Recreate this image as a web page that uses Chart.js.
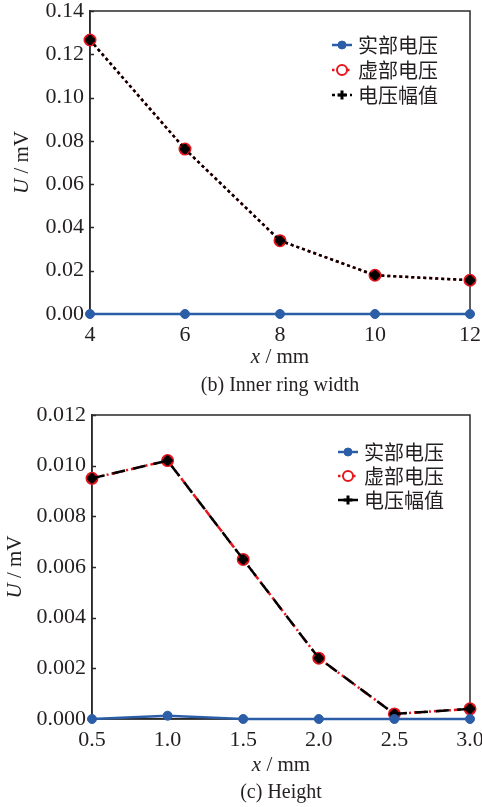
<!DOCTYPE html>
<html lang="zh">
<head>
<meta charset="UTF-8">
<title>U / mV</title>
<script src="https://cdn.jsdelivr.net/npm/chart.js"></script>
<style>
  body { margin: 0; background: #fff; width: 482px; height: 807px; overflow: hidden; }
  canvas { display: block; }
</style>
</head>
<body>
<canvas id="ringChart" width="482" height="400"></canvas>
<canvas id="heightChart" width="482" height="407"></canvas>
<script>
const seriesNames = ['实部电压', '虚部电压', '电压幅值'];

// (b) inner ring width
const ringX = [4, 6, 8, 10, 12];
const ringReal = [0, 0, 0, 0, 0];
const ringImag = [0.1266, 0.0762, 0.0339, 0.0179, 0.0156];
const ringAmp = [0.1266, 0.0762, 0.0339, 0.0179, 0.0156];
const ringXTicks = [4, 6, 8, 10, 12];
const ringYTicks = [0, 0.02, 0.04, 0.06, 0.08, 0.10, 0.12, 0.14];

// (c) height
const heightX = [0.5, 1.0, 1.5, 2.0, 2.5, 3.0];
const heightReal = [0, 0.00013, 0, 0, 0, 0];
const heightImag = [0.0095, 0.0102, 0.0063, 0.0024, 0.0002, 0.0004];
const heightAmp = [0.0095, 0.0102, 0.0063, 0.0024, 0.0002, 0.0004];
const heightXTicks = [0.5, 1.0, 1.5, 2.0, 2.5, 3.0];
const heightYTicks = [0, 0.002, 0.004, 0.006, 0.008, 0.010, 0.012];

const INK = '#231f20';
const AXIS = '#2a2a2a';
const BLUE = '#2c5ea8';
const RED = '#e5161d';
const SERIF = '"Liberation Serif", "Times New Roman", serif';
const CJK = '"Noto Sans CJK SC", sans-serif';

function toPoints(xs, ys) {
  return xs.map((x, i) => ({ x: x, y: ys[i] }));
}

// draws text made of plain / italic pieces, centred on x
function drawMixed(ctx, parts, x, y, size) {
  let total = 0;
  parts.forEach(p => {
    ctx.font = (p.italic ? 'italic ' : '') + size + 'px ' + SERIF;
    p.w = ctx.measureText(p.text).width;
    total += p.w;
  });
  let cx = x - total / 2;
  parts.forEach(p => {
    ctx.font = (p.italic ? 'italic ' : '') + size + 'px ' + SERIF;
    ctx.fillText(p.text, cx, y);
    cx += p.w;
  });
}

// box around the plot area plus short inward ticks on the y axis
const framePlugin = {
  id: 'frame',
  beforeDatasetsDraw(chart) {
    const { ctx, chartArea: a, scales } = chart;
    ctx.save();
    ctx.strokeStyle = AXIS;
    ctx.lineWidth = 1.5;
    ctx.strokeRect(a.left, a.top, a.right - a.left, a.bottom - a.top);
    ctx.beginPath();
    scales.y.ticks.forEach(t => {
      const y = Math.round(scales.y.getPixelForValue(t.value)) + 0.5;
      ctx.moveTo(a.left, y);
      ctx.lineTo(a.left + 4, y);
    });
    ctx.stroke();
    ctx.restore();
  }
};

const labelsPlugin = {
  id: 'labels',
  afterDraw(chart, args, o) {
    const { ctx, chartArea: a } = chart;
    const midX = (a.left + a.right) / 2;
    ctx.save();
    ctx.fillStyle = INK;
    ctx.textAlign = 'left';
    ctx.textBaseline = 'middle';

    // axis titles
    drawMixed(ctx, [{ text: 'x', italic: true }, { text: ' / mm' }], midX, o.xTitleY, 21);
    ctx.save();
    ctx.translate(o.yTitleX, (a.top + a.bottom) / 2);
    ctx.rotate(-Math.PI / 2);
    drawMixed(ctx, [{ text: 'U', italic: true }, { text: ' / mV' }], 0, 0, 21);
    ctx.restore();

    // caption under the chart
    drawMixed(ctx, [{ text: o.caption }], midX, o.captionY, 20);

    // legend inside plot area
    chart.data.datasets.forEach((ds, i) => {
      const y = o.legendY + i * o.legendGap;
      const x0 = o.legendX;
      ctx.save();
      ctx.strokeStyle = ds.borderColor;
      ctx.lineWidth = ds.borderWidth;
      ctx.setLineDash(ds.legendDash || ds.borderDash || []);
      ctx.beginPath();
      ctx.moveTo(x0, y);
      ctx.lineTo(x0 + 20, y);
      ctx.stroke();
      ctx.setLineDash([]);
      ctx.fillStyle = ds.legendFill || ds.pointBackgroundColor;
      ctx.strokeStyle = ds.pointBorderColor;
      ctx.lineWidth = ds.pointBorderWidth;
      Chart.helpers.drawPoint(ctx, {
        pointStyle: ds.pointStyle,
        radius: ds.pointRadius - 0.5,
        borderWidth: ds.pointBorderWidth,
        rotation: 0
      }, x0 + 10, y);
      ctx.restore();
      ctx.fillStyle = INK;
      ctx.font = '20px ' + CJK;
      ctx.fillText(ds.label, x0 + 26, y);
    });
    ctx.restore();
  }
};

function makeChart(id, cfg) {
  const tickFont = { family: SERIF, size: 22 };
  return new Chart(document.getElementById(id), {
    type: 'line',
    data: {
      datasets: [
        {
          label: seriesNames[0],
          data: toPoints(cfg.x, cfg.real),
          borderColor: BLUE,
          borderWidth: 2.5,
          pointStyle: 'circle',
          pointRadius: 4.5,
          pointBackgroundColor: BLUE,
          pointBorderColor: BLUE,
          pointBorderWidth: 1,
          order: 0
        },
        {
          label: seriesNames[1],
          data: toPoints(cfg.x, cfg.imag),
          borderColor: RED,
          borderWidth: 2.5,
          borderDash: cfg.imagDash,
          legendDash: [2.5, 2.5],
          pointStyle: 'circle',
          pointRadius: 5.5,
          pointBackgroundColor: '#1a0505',
          legendFill: '#fff',
          pointBorderColor: RED,
          pointBorderWidth: 2,
          order: 2
        },
        {
          label: seriesNames[2],
          data: toPoints(cfg.x, cfg.amp),
          borderColor: '#000',
          borderWidth: 2.5,
          borderDash: cfg.ampDash,
          legendDash: cfg.ampLegendDash,
          pointStyle: 'cross',
          pointRadius: 5,
          pointBackgroundColor: '#000',
          pointBorderColor: '#000',
          pointBorderWidth: 3,
          order: 1
        }
      ]
    },
    options: {
      responsive: false,
      animation: false,
      devicePixelRatio: 1,
      clip: false,
      layout: { padding: { top: cfg.top, right: 12, left: 0, bottom: 0 } },
      plugins: {
        legend: { display: false },
        tooltip: { enabled: false },
        labels: cfg.labels
      },
      scales: {
        x: {
          type: 'linear',
          min: cfg.xTicks[0],
          max: cfg.xTicks[cfg.xTicks.length - 1],
          afterBuildTicks: s => { s.ticks = cfg.xTicks.map(v => ({ value: v })); },
          afterFit: s => { s.height = cfg.xHeight; s.paddingLeft = 0; s.paddingRight = 0; },
          ticks: {
            font: tickFont, color: INK, padding: 8, maxRotation: 0,
            callback: v => v.toFixed(cfg.xDigits)
          },
          grid: { drawOnChartArea: false, drawTicks: false },
          border: { color: AXIS, width: 1.5 }
        },
        y: {
          min: cfg.yTicks[0],
          max: cfg.yTicks[cfg.yTicks.length - 1],
          afterBuildTicks: s => { s.ticks = cfg.yTicks.map(v => ({ value: v })); },
          afterFit: s => { s.width = cfg.yWidth; s.paddingTop = 0; s.paddingBottom = 0; },
          ticks: {
            font: tickFont, color: INK, padding: 6,
            callback: v => v.toFixed(cfg.yDigits)
          },
          grid: { drawOnChartArea: false, drawTicks: false },
          border: { color: AXIS, width: 1.5 }
        }
      }
    },
    plugins: [framePlugin, labelsPlugin]
  });
}

makeChart('ringChart', {
  x: ringX, real: ringReal, imag: ringImag, amp: ringAmp,
  xTicks: ringXTicks, yTicks: ringYTicks, xDigits: 0, yDigits: 2,
  top: 11, xHeight: 86, yWidth: 90,
  imagDash: [3, 3], ampDash: [3, 3], ampLegendDash: [3, 3],
  labels: { caption: '(b) Inner ring width', xTitleY: 357, captionY: 386, yTitleX: 22,
            legendX: 332, legendY: 45, legendGap: 25 }
});

makeChart('heightChart', {
  x: heightX, real: heightReal, imag: heightImag, amp: heightAmp,
  xTicks: heightXTicks, yTicks: heightYTicks, xDigits: 1, yDigits: 3,
  top: 15, xHeight: 88, yWidth: 92,
  imagDash: [7, 3, 2, 3, 2, 3], ampDash: [13, 8], ampLegendDash: [],
  labels: { caption: '(c) Height', xTitleY: 365, captionY: 393, yTitleX: 15,
            legendX: 338, legendY: 52, legendGap: 24 }
});
</script>
</body>
</html>
